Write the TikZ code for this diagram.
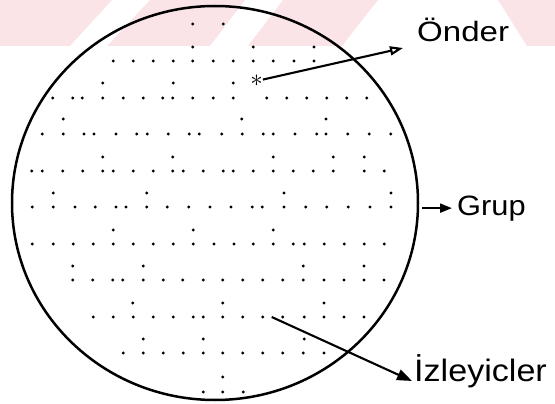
\documentclass[tikz,border=0pt]{standalone}
\usepackage{fontspec}
\newfontfamily\lblfont{Liberation Sans}
\usetikzlibrary{arrows.meta,shapes.geometric}
\definecolor{wmpink}{RGB}{251,228,232}

\begin{document}
\begin{tikzpicture}[x=1pt, y=-1pt,
    lbl/.style={anchor=base west, inner sep=0pt, font=\lblfont},
    pointer/.style={line width=2.1pt}]
  \useasboundingbox (0,0) rectangle (555,404);
  % faint watermark at the top
  \fill[wmpink] (0,0) -- (112,0) -- (70,46) -- (0,46) -- cycle;
  \fill[wmpink] (150,0) -- (245,0) -- (210,46) -- (107,46) -- cycle;
  \fill[wmpink] (283,0) -- (378,0) -- (342,46) -- (248,46) -- cycle;
  \fill[wmpink] (498,0) -- (555,0) -- (555,46) -- (527,46) -- cycle;
  % the group
  \node[ellipse, draw, line width=2.5pt, inner sep=0pt,
        minimum width=406pt, minimum height=394pt] (grup) at (215,203) {};
  % members
  \foreach \yy/\xs in {
      24/{192.7,223.3},
      47/{192.7,253.3,314},
      61/{113.3,133.3,153.3,173.3,192.7,213.3,233.3,253.3,273.3,294,314},
      83/{102.7,173.3,233.3},
      98/{52.7,72.7,82.3,102.7,123.3,143.3,162.7,172.7,192.7,213.3,233.3,266.7,286.7,306.7,326.7,346.7,366.7},
      119/{63.3,241.7,326},
      134/{42.3,63.3,84,94,116,136.7,147.3,168.3,189.3,199.3,221.7,242.3,263.3,273.3,295,316.7,326,347.7,369.3,390.7},
      157/{102.7,172.7,273.3,333.3,364.3},
      171/{31.7,42.3,62.7,82.7,102.7,113.3,133.3,153.3,172.7,183.3,203.3,223.3,233.3,253.3,273.3,293.3,313.3,333.3,364.3,384.3},
      193/{53.3,146.7,284,391},
      207/{32.3,53.3,75,95.3,116,126,146.7,167.3,188.7,210,231,252.3,262.3,284,305.7,326.7,348.3,370,391},
      230/{113.3,193.3,273.3},
      244/{32.3,53.3,73.3,93.3,113.3,133.3,153.3,173.3,193.3,214,234,253.3,273.3,293.3,304.3,324.3,344.3,364.3,384.3},
      266/{72.7,143.3,303.3,364},
      280/{72.7,92.7,112.7,122.7,143.3,163.3,182.7,203.3,222.7,242.7,262.7,282.7,303.3,324,344,364,384},
      303/{132.7,222.7,324},
      317/{93.3,113.3,133.3,153.3,173.3,193.3,203.3,222.7,242.7,262.7,282.7,304.3,324,344,364},
      339/{143.3,203.3,304.3},
      353/{123.3,143.3,163.3,183.3,203.3,222.7,242.7,262.7,282.7,303.3,324},
      377/{222.7},
      392/{203.3,222.7,243.3}}
    {\foreach \xx in \xs {\fill (\xx,\yy) circle (1.6pt);}}
  % the leader
  \node[inner sep=0pt, font=\fontsize{26}{26}\selectfont] (leader) at (256.5,81) {$\ast$};
  % labels
  \node[lbl] (onderLbl) at (417,42) {\fontsize{28}{30}\selectfont\scalebox{1.18}[1]{Önder}};
  \node[lbl] (grupLbl) at (457,215) {\fontsize{28}{30}\selectfont\scalebox{1.1}[1]{Grup}};
  \node[lbl] (izLbl) at (414,381) {\fontsize{31}{33}\selectfont\scalebox{1.1}[1]{İzleyicler}};
  \coordinate (onderTip) at (403,48);
  \coordinate (izStart) at (271.7,317);
  % pointers
  \draw[pointer, -{Triangle[open, length=13pt, width=9pt]}] (leader) -- (onderTip);
  \draw[pointer, -{Triangle[length=12pt, width=9pt]}]
    ([xshift=-35pt]grupLbl.west) -- ([xshift=-5pt]grupLbl.west);
  \draw[pointer, -{Triangle[length=15pt, width=11pt]}]
    (izStart) -- ([xshift=-2pt]izLbl.base west);
\end{tikzpicture}
\end{document}
